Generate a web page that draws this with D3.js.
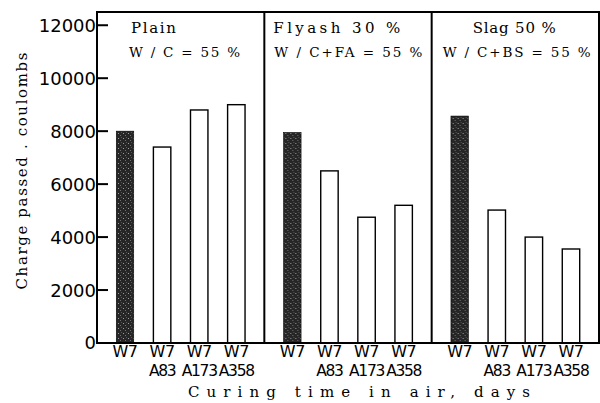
<!DOCTYPE html>
<html>
<head>
<meta charset="utf-8">
<script src="https://cdnjs.cloudflare.com/ajax/libs/d3/7.8.5/d3.min.js"></script>
<style>
  body { margin: 0; background: #fff; }
  svg { display: block; }
</style>
</head>
<body>
<script>
// bars in each panel (W7 = water cured 7 days, A = days in air afterwards)
var categories = ["W7", "W7 A83", "W7 A173", "W7 A358"];
var panels = ["Plain", "Flyash 30 %", "Slag 50 %"];
var ratios = ["W / C = 55 %", "W / C+FA = 55 %", "W / C+BS = 55 %"];

var plain  = [8000, 7400, 8800, 9000];
var flyash = [7950, 6500, 4750, 5200];
var slag   = [8570, 5020, 4000, 3550];

var yTicks = [0, 2000, 4000, 6000, 8000, 10000, 12000];

var series = [plain, flyash, slag];

var width = 600, height = 403;
var margin = { top: 12, right: 1, bottom: 60, left: 97 };
var plotW = width - margin.left - margin.right;
var plotH = height - margin.top - margin.bottom;
var panelW = plotW / panels.length;

// where the two lines of text sit in each panel: [x offset, width] for title and ratio
var textPos = [
  { t: [34, 45],  r: [32, 111] },
  { t: [9, 127],  r: [10, 148] },
  { t: [41, 83],  r: [11, 148] }
];

var svg = d3.select("body").append("svg")
    .attr("width", width)
    .attr("height", height);

// speckled dark fill for the W7 bars
var defs = svg.append("defs");
var pat = defs.append("pattern")
    .attr("id", "speck")
    .attr("width", 5).attr("height", 5)
    .attr("patternUnits", "userSpaceOnUse");
pat.append("rect").attr("width", 5).attr("height", 5).attr("fill", "#262626");
pat.append("rect").attr("x", 1).attr("y", 1).attr("width", 1).attr("height", 1).attr("fill", "#9a9a9a");
pat.append("rect").attr("x", 3).attr("y", 3).attr("width", 1).attr("height", 1).attr("fill", "#707070");
pat.append("rect").attr("x", 4).attr("y", 0).attr("width", 1).attr("height", 1).attr("fill", "#555");

var g = svg.append("g")
    .attr("transform", "translate(" + margin.left + "," + margin.top + ")");

var y = d3.scaleLinear().domain([0, 12500]).range([plotH, 0]);

var x = d3.scaleBand()
    .domain(categories)
    .range([0, panelW])
    .paddingInner(0.53)
    .paddingOuter(0.52);

var panelX = d3.scaleBand()
    .domain(panels)
    .range([0, plotW]);

// y axis ticks (drawn inward) and labels
g.selectAll(".ytick")
    .data(yTicks)
  .enter().append("line")
    .attr("x1", 0).attr("x2", 11)
    .attr("y1", function(d) { return y(d); })
    .attr("y2", function(d) { return y(d); })
    .attr("stroke", "#000")
    .attr("stroke-width", 2);

g.selectAll(".ylab")
    .data(yTicks)
  .enter().append("text")
    .attr("x", -1)
    .attr("y", function(d) { return y(d); })
    .attr("dy", "0.36em")
    .attr("text-anchor", "end")
    .style("font-family", "DejaVu Sans")
    .style("font-size", "18px")
    .text(function(d) { return d; });

panels.forEach(function(name, i) {
  var p = g.append("g")
      .attr("transform", "translate(" + panelX(name) + ",0)");

  p.selectAll("rect.bar")
      .data(series[i])
    .enter().append("rect")
      .attr("class", "bar")
      .attr("x", function(d, j) { return x(categories[j]); })
      .attr("y", function(d) { return y(d); })
      .attr("width", x.bandwidth())
      .attr("height", function(d) { return plotH - y(d); })
      .attr("fill", function(d, j) { return j === 0 ? "url(#speck)" : "#fff"; })
      .attr("stroke", "#000")
      .attr("stroke-width", function(d, j) { return j === 0 ? 0.6 : 1.4; });

  // two-line category labels below the axis, one text per bar
  var lab = p.selectAll("text.cat")
      .data(categories)
    .enter().append("text")
      .attr("class", "cat")
      .attr("text-anchor", "middle")
      .style("font-family", "DejaVu Sans");
  lab.append("tspan")
      .attr("x", function(d) { return x(d) + x.bandwidth() / 2; })
      .attr("y", plotH + 14)
      .style("font-size", "16px")
      .style("letter-spacing", "-0.5px")
      .text(function(d) { return d.split(" ")[0]; });
  lab.filter(function(d) { return d.indexOf(" ") > 0; })
    .append("tspan")
      .attr("x", function(d) { return x(d) + x.bandwidth() / 2; })
      .attr("y", plotH + 32.5)
      .style("font-size", "15.5px")
      .style("letter-spacing", "-1.3px")
      .text(function(d) { return d.split(" ")[1]; });

  p.append("text")
      .attr("x", textPos[i].t[0])
      .attr("y", 21)
      .attr("textLength", textPos[i].t[1])
      .attr("lengthAdjust", "spacing")
      .style("font-family", "DejaVu Serif")
      .style("font-size", "15px")
      .text(name);

  p.append("text")
      .attr("x", textPos[i].r[0])
      .attr("y", 45)
      .attr("textLength", textPos[i].r[1])
      .attr("lengthAdjust", "spacing")
      .style("font-family", "DejaVu Serif")
      .style("font-size", "13.5px")
      .text(ratios[i]);
});

// frame and panel dividers
g.append("rect")
    .attr("x", 0).attr("y", 0)
    .attr("width", plotW).attr("height", plotH)
    .attr("fill", "none")
    .attr("stroke", "#000")
    .attr("stroke-width", 2);

g.selectAll(".divider")
    .data(panels.slice(1))
  .enter().append("line")
    .attr("x1", function(d) { return panelX(d); })
    .attr("x2", function(d) { return panelX(d); })
    .attr("y1", 0).attr("y2", plotH)
    .attr("stroke", "#000")
    .attr("stroke-width", 2);

// axis titles
svg.append("text")
    .attr("transform", "translate(27,171) rotate(-90)")
    .attr("text-anchor", "middle")
    .attr("textLength", 237)
    .attr("lengthAdjust", "spacing")
    .style("font-family", "DejaVu Serif")
    .style("font-size", "15px")
    .text("Charge  passed . coulombs");

svg.append("text")
    .attr("x", 188)
    .attr("y", 397)
    .attr("textLength", 342)
    .attr("lengthAdjust", "spacing")
    .style("font-family", "DejaVu Serif")
    .style("font-size", "15px")
    .text("Curing  time  in  air,  days");
</script>
</body>
</html>
